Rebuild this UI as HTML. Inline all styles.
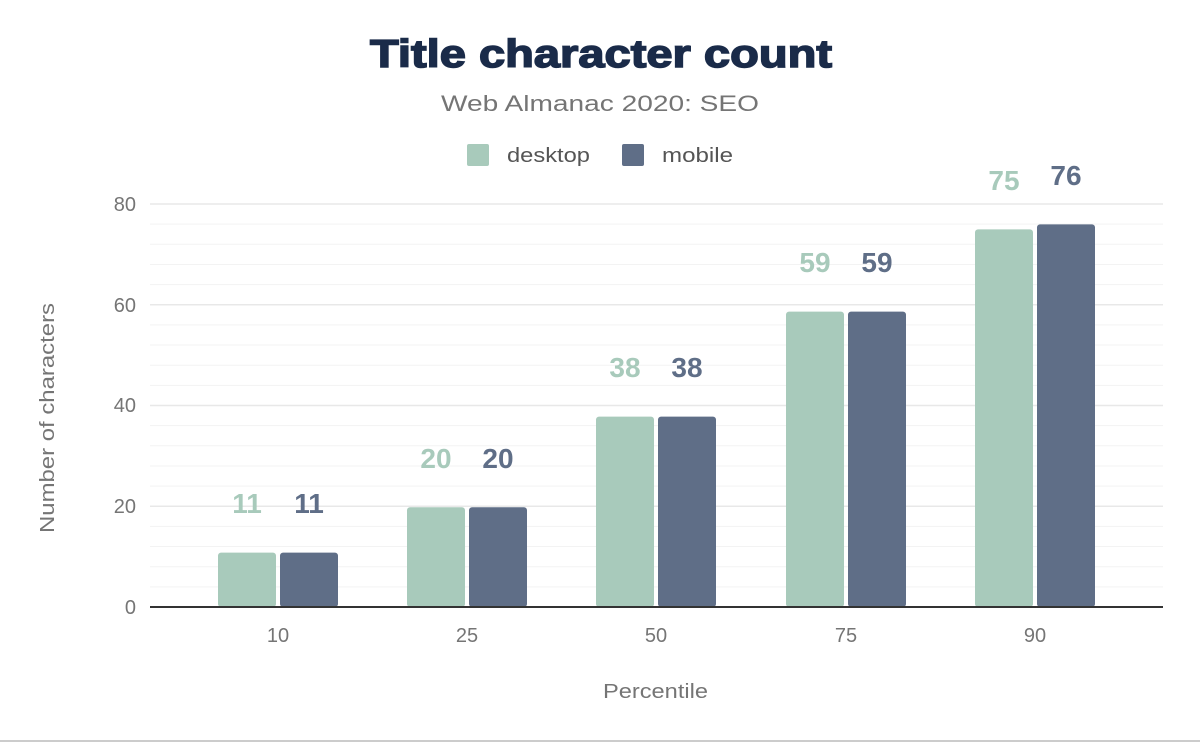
<!DOCTYPE html>
<html><head><meta charset="utf-8"><style>
body{margin:0;background:#fff;}
svg{display:block;font-family:"Liberation Sans",sans-serif;}
</style></head><body>
<svg width="1200" height="742" viewBox="0 0 1200 742">
<rect width="1200" height="742" fill="#fff"/>
<text x="370" y="67" textLength="462" lengthAdjust="spacingAndGlyphs" font-size="39" font-weight="900" fill="#1a2b49" stroke="#1a2b49" stroke-width="1.5">Title character count</text>
<text x="441" y="111" textLength="318" lengthAdjust="spacingAndGlyphs" font-size="22" fill="#757575">Web Almanac 2020: SEO</text>
<rect x="467" y="144" width="22" height="22" rx="2" fill="#a8cabb"/>
<text x="507" y="162" textLength="83" lengthAdjust="spacingAndGlyphs" font-size="20" fill="#555">desktop</text>
<rect x="622" y="144" width="22" height="22" rx="2" fill="#5f6e87"/>
<text x="662" y="162" textLength="71" lengthAdjust="spacingAndGlyphs" font-size="20" fill="#555">mobile</text>
<g stroke="#f3f3f3" stroke-width="1">
<line x1="150" x2="1163" y1="586.85" y2="586.85"/><line x1="150" x2="1163" y1="566.7" y2="566.7"/><line x1="150" x2="1163" y1="546.55" y2="546.55"/><line x1="150" x2="1163" y1="526.4" y2="526.4"/>
<line x1="150" x2="1163" y1="486.1" y2="486.1"/><line x1="150" x2="1163" y1="465.95" y2="465.95"/><line x1="150" x2="1163" y1="445.8" y2="445.8"/><line x1="150" x2="1163" y1="425.65" y2="425.65"/>
<line x1="150" x2="1163" y1="385.35" y2="385.35"/><line x1="150" x2="1163" y1="365.2" y2="365.2"/><line x1="150" x2="1163" y1="345.05" y2="345.05"/><line x1="150" x2="1163" y1="324.9" y2="324.9"/>
<line x1="150" x2="1163" y1="284.6" y2="284.6"/><line x1="150" x2="1163" y1="264.45" y2="264.45"/><line x1="150" x2="1163" y1="244.3" y2="244.3"/><line x1="150" x2="1163" y1="224.15" y2="224.15"/>
</g>
<g stroke="#e8e8e8" stroke-width="1.5">
<line x1="150" x2="1163" y1="506.25" y2="506.25"/><line x1="150" x2="1163" y1="405.5" y2="405.5"/><line x1="150" x2="1163" y1="304.75" y2="304.75"/><line x1="150" x2="1163" y1="204" y2="204"/>
</g>
<g font-size="20" fill="#757575" text-anchor="end">
<text x="136" y="614">0</text><text x="136" y="513">20</text><text x="136" y="412">40</text><text x="136" y="312">60</text><text x="136" y="211">80</text>
</g>
<g>
<rect x="218" y="552.6" width="58" height="54.4" rx="3" fill="#a8cabb"/><rect x="280" y="552.6" width="58" height="54.4" rx="3" fill="#5f6e87"/>
<rect x="407" y="507.3" width="58" height="99.7" rx="3" fill="#a8cabb"/><rect x="469" y="507.3" width="58" height="99.7" rx="3" fill="#5f6e87"/>
<rect x="596" y="416.6" width="58" height="190.4" rx="3" fill="#a8cabb"/><rect x="658" y="416.6" width="58" height="190.4" rx="3" fill="#5f6e87"/>
<rect x="786" y="311.6" width="58" height="295.4" rx="3" fill="#a8cabb"/><rect x="848" y="311.6" width="58" height="295.4" rx="3" fill="#5f6e87"/>
<rect x="975" y="229.4" width="58" height="377.6" rx="3" fill="#a8cabb"/><rect x="1037" y="224.4" width="58" height="382.6" rx="3" fill="#5f6e87"/>
</g>
<g font-size="28" font-weight="bold" text-anchor="middle">
<text x="247" y="513" fill="#a8cabb">11</text><text x="309" y="513" fill="#5f6e87">11</text>
<text x="436" y="468" fill="#a8cabb">20</text><text x="498" y="468" fill="#5f6e87">20</text>
<text x="625" y="377" fill="#a8cabb">38</text><text x="687" y="377" fill="#5f6e87">38</text>
<text x="815" y="272" fill="#a8cabb">59</text><text x="877" y="272" fill="#5f6e87">59</text>
<text x="1004" y="190" fill="#a8cabb">75</text><text x="1066" y="185" fill="#5f6e87">76</text>
</g>
<line x1="150" x2="1163" y1="607" y2="607" stroke="#333" stroke-width="2"/>
<g font-size="20" fill="#757575" text-anchor="middle">
<text x="278" y="642">10</text><text x="467" y="642">25</text><text x="656" y="642">50</text><text x="846" y="642">75</text><text x="1035" y="642">90</text>
</g>
<text x="603" y="698" textLength="105" lengthAdjust="spacingAndGlyphs" font-size="20" fill="#757575">Percentile</text>
<text transform="translate(54,533) rotate(-90)" textLength="230" lengthAdjust="spacingAndGlyphs" font-size="20" fill="#757575">Number of characters</text>
<line x1="0" x2="1200" y1="741" y2="741" stroke="#999" stroke-width="1"/>
</svg>
</body></html>
